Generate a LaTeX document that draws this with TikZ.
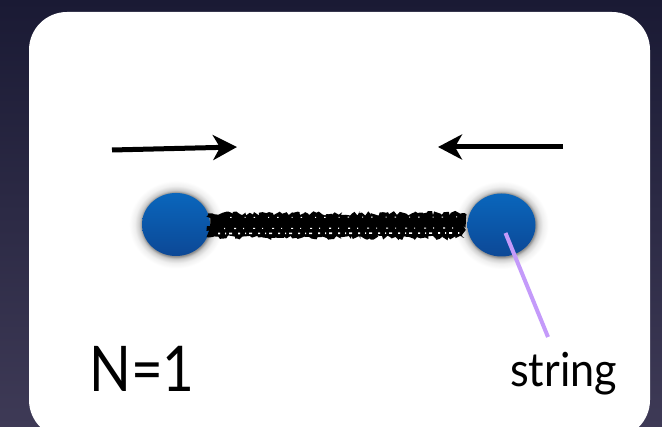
\documentclass[tikz,border=0pt]{standalone}
\usepackage{fontspec}
\setmainfont{Lato}
\usetikzlibrary{arrows.meta,shapes.geometric,decorations.pathmorphing,calc}
\definecolor{bgtop}{RGB}{26,26,52}
\definecolor{bgbot}{RGB}{62,58,86}
\definecolor{balltop}{RGB}{10,102,188}
\definecolor{ballbot}{RGB}{12,72,150}
\definecolor{strlabel}{RGB}{196,154,250}
\pgfdeclareradialshading{ballglow}{\pgfpoint{0bp}{0bp}}{%
  color(0bp)=(black!45); color(18bp)=(black!45); color(19.5bp)=(black!20);
  color(22bp)=(black!6); color(25bp)=(white); color(50bp)=(white)}
\begin{document}
\begin{tikzpicture}[x=1pt,y=-1pt,
  ball/.style={ellipse, minimum width=68pt, minimum height=63pt, inner sep=0pt,
    top color=balltop, bottom color=ballbot, draw=none},
  glow/.style={shading=ballglow},
  push/.style={line width=5pt, -{Stealth[length=24pt,width=25pt,inset=7pt]}},
  rough/.style={decorate, decoration={random steps, segment length=2.5pt, amplitude=2.4pt}},
  speck/.style={white, line width=1.6pt},
  pointer/.style={strlabel, line width=4pt},
  bigtxt/.style={inner sep=0pt, anchor=base west, font=\fontsize{63}{63}\selectfont},
  labtxt/.style={inner sep=0pt, anchor=base west, font=\fontsize{47}{47}\selectfont}]
\useasboundingbox (0,0) rectangle (662,427);
\shade[top color=bgtop, bottom color=bgbot] (0,0) rectangle (662,427);
\fill[white, rounded corners=38pt] (29,12) rectangle (650,438);

% arrows
\coordinate (a1s) at (112,150);
\coordinate (a1e) at (237,147);
\coordinate (a2s) at (563,147);
\coordinate (a2e) at (438,147);
\draw[push] (a1s) -- (a1e);
\draw[push] (a2s) -- (a2e);

% glows and balls
\coordinate (Lc) at (176,224.5);
\coordinate (Rc) at (501.5,225);
\shade[glow] (Lc) ellipse [x radius=47pt, y radius=44pt];
\shade[glow] (Rc) ellipse [x radius=47pt, y radius=44pt];
\node[ball] (L) at (Lc) {};
\node[ball] (R) at (Rc) {};

% rough string between the balls
\pgfmathsetseed{11}
\fill[rough] ($(L.east)+(-2,-11)$) -- ($(R.west)+(-3,-12)$) -- ($(R.west)+(-3,13)$) -- ($(L.east)+(-2,13)$) -- cycle;
\draw[speck, dash pattern=on 2pt off 5pt on 1pt off 3pt on 3pt off 6pt] ($(L.east)+(8,9)$) -- ($(R.west)+(-8,8)$);
\draw[speck, line width=1.1pt, dash pattern=on 1pt off 9pt on 2pt off 7pt] ($(L.east)+(14,4)$) -- ($(R.west)+(-12,3)$);
\draw[speck, line width=1pt, dash pattern=on 1.5pt off 13pt on 1pt off 8pt] ($(L.east)+(20,-7)$) -- ($(R.west)+(-10,-8)$);

% labels
\node[bigtxt] (N) at (89,392) {\scalebox{0.87}[1]{N=1}};
\node[labtxt] (S) at (510,387) {\scalebox{0.92}[1]{string}};
\coordinate (p1) at ($(R.center)+(4,8)$);
\coordinate (p2) at (548,337);
\draw[pointer] (p1) -- (p2);
\end{tikzpicture}
\end{document}
